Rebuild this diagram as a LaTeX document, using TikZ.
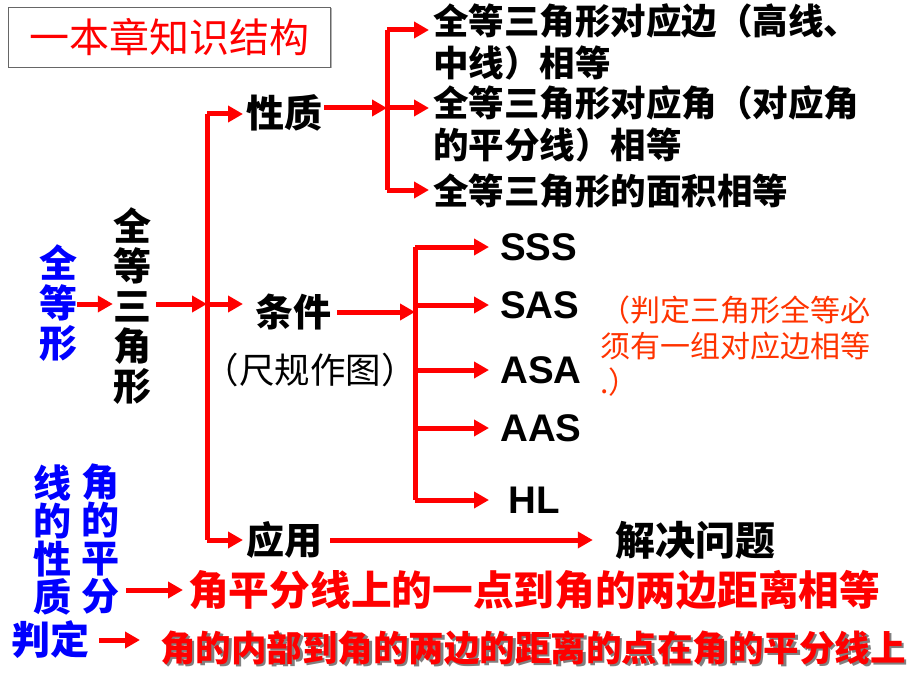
\documentclass[tikz,border=0pt]{standalone}
\usepackage{fontspec}
\setmainfont{Liberation Sans}
\newfontfamily\cjk{Noto Sans CJK SC}
\usetikzlibrary{arrows.meta}
\definecolor{arred}{RGB}{255,0,0}
\definecolor{notered}{RGB}{255,51,0}
\definecolor{tblue}{RGB}{0,0,255}
\tikzset{
  arr/.style={draw=arred,line width=5pt,-{Triangle[length=15pt,width=16pt]}},
  plainline/.style={draw=arred,line width=5pt},
  txt/.style={inner sep=2pt,font=\cjk\bfseries\fontsize{38}{40}\selectfont},
  rtxt/.style={inner sep=2pt,anchor=west,align=left,font=\cjk\bfseries\fontsize{35.5}{42}\selectfont},
  abc/.style={inner sep=2pt,anchor=west,font=\bfseries\fontsize{38.5}{40}\selectfont},
  vblue/.style={inner sep=0pt,align=center,text=tblue,font=\cjk\bfseries\fontsize{38}{38.3}\selectfont},
}
\begin{document}
\begin{tikzpicture}[x=1pt,y=-1pt]
\useasboundingbox (0,0) rectangle (920,690);
% title
\fill[gray!60] (9.5,8.5) rectangle (331.5,68.5);
\node[draw=gray!80!black,fill=white,line width=0.6pt,minimum width=322pt,minimum height=60pt,inner sep=0pt,
  text=red,font=\cjk\fontsize{40}{40}\selectfont] (title) at (169,37) {一本章知识结构};
% left column
\node[txt,text=tblue,align=center,inner sep=0pt] (qdx) at (58,303) {全\\等\\形};
\node[txt,align=center,inner sep=0pt] (sjx) at (132,306) {全\\等\\三\\角\\形};
\node[txt] (xingzhi) at (284,113) {性质};
\node[txt] (tiaojian) at (293,312) {条件};
\node[inner sep=2pt,font=\cjk\fontsize{35.5}{36}\selectfont] (chigui) at (310,370) {（尺规作图）};
\node[txt] (yingyong) at (284,540) {应用};
\node[txt,font=\cjk\bfseries\fontsize{40}{40}\selectfont] (jjwt) at (695,540) {解决问题};
% properties
\node[rtxt] (p1) at (431,41.5) {全等三角形对应边（高线、\\中线）相等};
\node[rtxt] (p2) at (431,123.5) {全等三角形对应角（对应角\\的平分线）相等};
\node[rtxt] (p3) at (431,191) {全等三角形的面积相等};
% criteria
\node[abc] (sss) at (498,247) {SSS};
\node[abc] (sas) at (498,305) {SAS};
\node[abc] (asa) at (498,370) {ASA};
\node[abc] (aas) at (498,428) {AAS};
\node[abc] (hl) at (506,500) {HL};
\node[inner sep=0pt,anchor=north west,align=left,text=notered,font=\cjk\fontsize{30}{36}\selectfont] (note) at (600,296) {（判定三角形全等必\\须有一组对应边相等\\.）};
% bottom
\node[vblue] (col1) at (52,540) {线\\的\\性\\质};
\node[vblue] (col2) at (100,539) {角\\的\\平\\分};
\node[inner sep=2pt,text=tblue,font=\cjk\bfseries\fontsize{39}{40}\selectfont] (pd) at (50,640) {判定};
\node[inner sep=2pt,anchor=west,text=red,font=\cjk\bfseries\fontsize{40.7}{40}\selectfont] (red1) at (186,590) {角平分线上的一点到角的两边距离相等};
\node[inner sep=2pt,anchor=west,text=gray,font=\cjk\bfseries\fontsize{35.5}{36}\selectfont] (red2s) at (160.5,650.5) {角的内部到角的两边的距离的点在角的平分线上};
\node[inner sep=2pt,anchor=west,text=red,font=\cjk\bfseries\fontsize{35.5}{36}\selectfont] (red2) at (158,648) {角的内部到角的两边的距离的点在角的平分线上};
% junctions
\coordinate (b1) at (207,304);
\coordinate (b1top) at (207,114);
\coordinate (b1bot) at (207,540);
\coordinate (b2) at (387,108);
\coordinate (b2top) at (387,30);
\coordinate (b2bot) at (387,190);
\coordinate (b3) at (415,312);
\coordinate (tipl) at (243,0);
\coordinate (tipp) at (429,0);
\coordinate (tipc) at (489,0);
% connectors
\draw[arr] (qdx.east |- b1) -- (sjx.west |- b1);
\draw[arr,shorten <=5pt] (sjx.east |- b1) -- (b1);
\draw[plainline] (b1top) -- (b1bot);
\draw[arr] (b1top) -- (tipl |- b1top);
\draw[arr] (b1) -- (tipl |- b1);
\draw[arr] (b1bot) -- (tipl |- b1bot);
\draw[arr] (xingzhi.east |- b2) -- (b2);
\draw[plainline] (b2top) -- (b2bot);
\draw[arr] (b2top) -- (tipp |- b2top);
\draw[arr] (b2) -- (tipp |- b2);
\draw[arr] (b2bot) -- (tipp |- b2bot);
\draw[arr,shorten <=4pt] (tiaojian.east |- b3) -- (b3);
\draw[plainline] (b3 |- sss.west) -- (b3 |- hl.west);
\draw[arr] (b3 |- sss.west) -- (tipc |- sss.west);
\draw[arr] (b3 |- sas.west) -- (tipc |- sas.west);
\draw[arr] (b3 |- asa.west) -- (tipc |- asa.west);
\draw[arr] (b3 |- aas.west) -- (tipc |- aas.west);
\draw[arr] (b3 |- hl.west) -- (tipc |- hl.west);
\draw[arr,shorten <=6pt,shorten >=20pt] (yingyong.east |- jjwt.west) -- (jjwt.west);
\draw[arr,shorten <=7pt,shorten >=3pt] (col2.east |- red1.west) -- (red1.west);
\draw[arr,shorten <=8pt,shorten >=18pt] (pd.east) -- (pd.east -| red2.west);
\end{tikzpicture}
\end{document}
